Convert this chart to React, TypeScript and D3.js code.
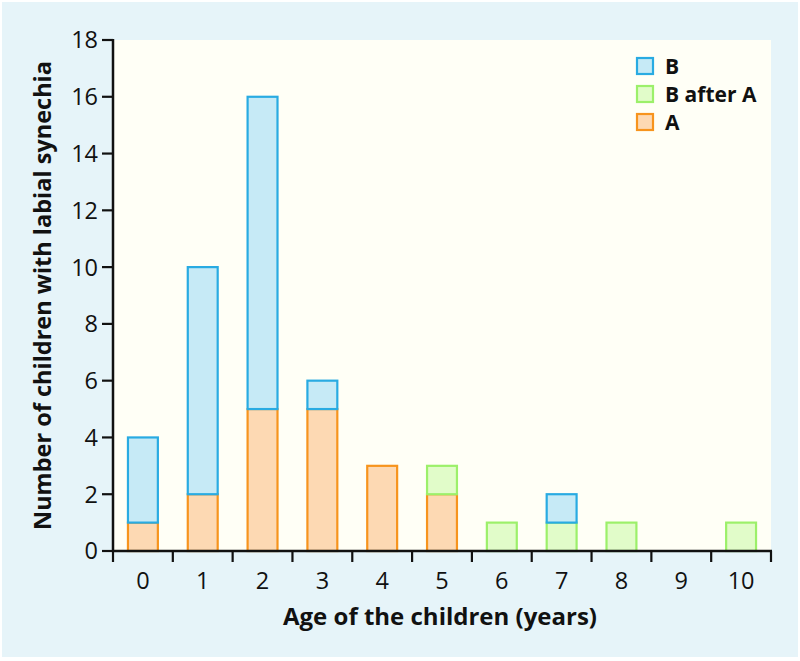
import React from "react";
import * as d3 from "d3";

const categories = ["0", "1", "2", "3", "4", "5", "6", "7", "8", "9", "10"];
const seriesA = [1, 2, 5, 5, 3, 2, 0, 0, 0, 0, 0];
const seriesBafterA = [0, 0, 0, 0, 0, 1, 1, 1, 1, 0, 1];
const seriesB = [3, 8, 11, 1, 0, 0, 0, 1, 0, 0, 0];
const yTicks = [0, 2, 4, 6, 8, 10, 12, 14, 16, 18];
const keys = ["A", "BafterA", "B"];
const legendItems = [
  { key: "B", label: "B" },
  { key: "BafterA", label: "B after A" },
  { key: "A", label: "A" },
];

const fills: Record<string, string> = { A: "#fdd9b3", BafterA: "#e1fcc9", B: "#c6eaf6" };
const strokes: Record<string, string> = { A: "#f7941d", BafterA: "#9cf06a", B: "#29abe2" };

const W = 800, H = 661;
const left = 113, right = 771, top = 40, bottom = 551;
const FONT = "'Open Sans', sans-serif";

export default function App() {
  const x = d3.scaleBand<string>().domain(categories).range([left, right]).paddingInner(0.5).paddingOuter(0.25);
  const y = d3.scaleLinear().domain([0, 18]).range([bottom, top]);
  const rows = categories.map((c, i) => ({ cat: c, A: seriesA[i], BafterA: seriesBafterA[i], B: seriesB[i] }));
  const stacked = d3.stack<any>().keys(keys)(rows);
  const step = x.step();
  const xTickPos = d3.range(categories.length + 1).map((i) => left + i * step);

  return (
    <svg width={W} height={H} style={{ display: "block", position: "absolute", left: 0, top: 0 }}>
      <rect x={0} y={0} width={W} height={H} fill="#ffffff" />
      <rect x={2} y={2} width={W - 4} height={H - 6} fill="#e6f4f9" />
      <rect x={left} y={top} width={right - left} height={bottom - top} fill="#fffff6" />
      {stacked.map((s) => (
        <g key={s.key}>
          {s.map((d, i) =>
            d[1] - d[0] > 0 ? (
              <rect
                key={i}
                x={x(categories[i])!}
                y={y(d[1])}
                width={x.bandwidth()}
                height={y(d[0]) - y(d[1])}
                fill={fills[s.key]}
                stroke={strokes[s.key]}
                strokeWidth={2.2}
              />
            ) : null
          )}
        </g>
      ))}
      {/* y axis */}
      <line x1={left} x2={left} y1={top - 1} y2={bottom} stroke="#111" strokeWidth={2.5} />
      {yTicks.map((t) => (
        <g key={t}>
          <line x1={left - 11} x2={left} y1={y(t)} y2={y(t)} stroke="#111" strokeWidth={2.2} />
          <text x={left - 15} y={y(t)} dy="0.36em" textAnchor="end" fontFamily={FONT} fontSize={23.5} fill="#111">
            {t}
          </text>
        </g>
      ))}
      {/* x axis */}
      <line x1={left - 1} x2={right + 1} y1={bottom} y2={bottom} stroke="#111" strokeWidth={2.5} />
      {xTickPos.map((p, i) => (
        <line key={i} x1={p} x2={p} y1={bottom} y2={bottom + 11} stroke="#111" strokeWidth={2.2} />
      ))}
      {categories.map((c) => (
        <text key={c} x={x(c)! + x.bandwidth() / 2} y={589} textAnchor="middle" fontFamily={FONT} fontSize={23.5} fill="#111">
          {c}
        </text>
      ))}
      <text x={440} y={625} textAnchor="middle" fontFamily={FONT} fontWeight="bold" fontSize={24} fill="#111">
        Age of the children (years)
      </text>
      <text
        transform={`translate(51, ${(top + bottom) / 2}) rotate(-90)`}
        textAnchor="middle"
        fontFamily={FONT}
        fontWeight="bold"
        fontSize={23.5}
        fill="#111"
      >
        Number of children with labial synechia
      </text>
      {legendItems.map((l, i) => (
        <g key={l.key} transform={`translate(637, ${58 + i * 28})`}>
          <rect x={0} y={0} width={16} height={16} fill={fills[l.key]} stroke={strokes[l.key]} strokeWidth={2.2} />
          <text x={28} y={8} dy="0.36em" fontFamily={FONT} fontWeight="bold" fontSize={21} fill="#111">
            {l.label}
          </text>
        </g>
      ))}
    </svg>
  );
}
